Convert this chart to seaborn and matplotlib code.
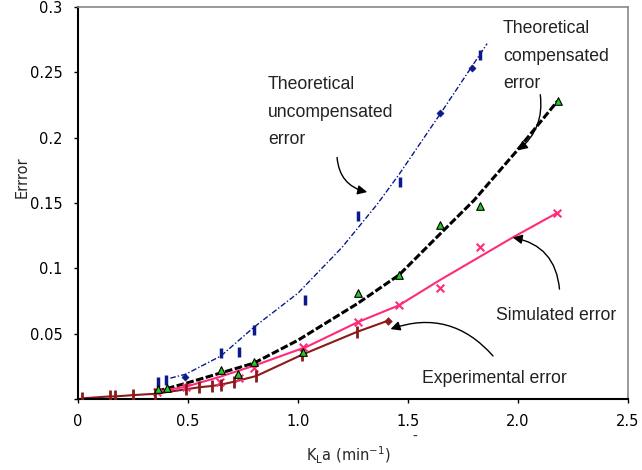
import matplotlib
matplotlib.use("Agg")
import matplotlib.pyplot as plt
import seaborn as sns
import pandas as pd

# ---------------- data ----------------
# Theoretical uncompensated error (navy, dash-dot trend line + markers)
unc_line_x = [0.42, 0.49, 0.65, 0.80, 1.00, 1.20, 1.36, 1.46, 1.65, 1.86]
unc_line_y = [0.016, 0.019, 0.033, 0.055, 0.081, 0.116, 0.149, 0.172, 0.219, 0.272]
unc_bar_x = [0.365, 0.40, 0.65, 0.73, 0.80, 1.032, 1.274, 1.464, 1.827]
unc_bar_y = [0.0133, 0.0145, 0.035, 0.036, 0.0528, 0.0758, 0.140, 0.166, 0.263]
unc_dia_x = [0.486, 1.645, 1.79]
unc_dia_y = [0.017, 0.2186, 0.253]

# Theoretical compensated error (black dashed + green triangles)
comp_line_x = [0.36, 0.49, 0.80, 1.00, 1.27, 1.46, 1.65, 1.80, 1.99, 2.18]
comp_line_y = [0.006, 0.012, 0.0275, 0.045, 0.073, 0.095, 0.127, 0.152, 0.189, 0.228]
comp_pt_x = [0.362, 0.403, 0.65, 0.726, 0.80, 1.024, 1.274, 1.459, 1.648, 1.827, 2.183]
comp_pt_y = [0.0074, 0.0087, 0.0222, 0.0189, 0.0281, 0.0357, 0.0814, 0.0949, 0.133, 0.1477, 0.228]

# Simulated error (pink line + x markers)
sim_line_x = [0.36, 0.49, 0.645, 0.80, 1.04, 1.274, 1.459, 1.645, 1.98, 2.18]
sim_line_y = [0.0056, 0.0094, 0.017, 0.0255, 0.040, 0.059, 0.0717, 0.091, 0.124, 0.1426]
sim_pt_x = [0.36, 0.49, 0.645, 0.73, 0.80, 1.024, 1.274, 1.459, 1.648, 1.827, 2.18]
sim_pt_y = [0.005, 0.009, 0.013, 0.016, 0.024, 0.040, 0.059, 0.0717, 0.0852, 0.1166, 0.1426]

# Experimental error (dark red line + tick markers)
exp_x = [0.017, 0.145, 0.17, 0.25, 0.35, 0.49, 0.55, 0.61, 0.65, 0.71, 0.81, 1.02, 1.27, 1.41]
exp_y = [0.0005, 0.002, 0.002, 0.003, 0.004, 0.0074, 0.009, 0.010, 0.011, 0.0133, 0.0176, 0.034, 0.0515, 0.060]

x_ticks = [0, 0.5, 1.0, 1.5, 2.0, 2.5]
x_tick_labels = ["0", "0.5", "1.0", "1.5", "2.0", "2.5"]
y_ticks = [0, 0.05, 0.1, 0.15, 0.2, 0.25, 0.3]
y_tick_labels = ["", "0.05", "0.1", "0.15", "0.2", "0.25", "0.3"]

# ---------------- style ----------------
sns.set_theme(style="white")
plt.rcParams["font.family"] = ["DejaVu Sans"]

fig = plt.figure(figsize=(6.42, 4.70), dpi=100)
ax = fig.add_axes([0.1215, 0.151, 0.8565, 0.834])

navy = "#0a1a8a"
pink = "#ff2a7a"
brown = "#8b1a1a"

# uncompensated
sns.lineplot(x=unc_line_x, y=unc_line_y, ax=ax, color=navy, lw=1.0,
             estimator=None, sort=False)
ax.lines[-1].set_dashes([4, 1.5, 1, 1.5])
sns.scatterplot(x=unc_bar_x, y=unc_bar_y, ax=ax, marker="|", s=60,
                color=navy, linewidth=2.5)
sns.scatterplot(x=unc_dia_x, y=unc_dia_y, ax=ax, marker="D", s=14,
                color=navy, edgecolor=navy)

# compensated
sns.lineplot(x=comp_line_x, y=comp_line_y, ax=ax, color="black", lw=2.2,
             estimator=None, sort=False)
ax.lines[-1].set_dashes([2.5, 0.8])
sns.scatterplot(x=comp_pt_x, y=comp_pt_y, ax=ax, marker="^", s=30,
                color="#22cc22", edgecolor="black", linewidth=0.8, zorder=5)

# simulated
sns.lineplot(x=sim_line_x, y=sim_line_y, ax=ax, color=pink, lw=1.5,
             estimator=None, sort=False)
sns.scatterplot(x=sim_pt_x, y=sim_pt_y, ax=ax, marker="x", s=30,
                color=pink, linewidth=1.5, zorder=4)

# experimental
sns.lineplot(x=exp_x, y=exp_y, ax=ax, color=brown, lw=1.5,
             estimator=None, sort=False)
sns.scatterplot(x=exp_x[:-1], y=exp_y[:-1], ax=ax, marker="|", s=70,
                color=brown, linewidth=2.0, zorder=4)
sns.scatterplot(x=exp_x[-1:], y=exp_y[-1:], ax=ax, marker="D", s=16,
                color=brown, edgecolor=brown, zorder=4)

# ---------------- axes ----------------
ax.set_xlim(0, 2.5)
ax.set_ylim(0, 0.3)
ax.set_xticks(x_ticks)
ax.set_xticklabels(x_tick_labels)
ax.set_yticks(y_ticks)
ax.set_yticklabels(y_tick_labels)
ax.tick_params(axis="both", labelsize=10.5, colors="black", direction="out",
               length=3, width=1, left=True, bottom=True)
ax.tick_params(axis="y", pad=8)
ax.tick_params(axis="x", pad=8)
for s in ["left", "bottom"]:
    ax.spines[s].set_color("black")
    ax.spines[s].set_linewidth(1.5)
for s in ["top", "right"]:
    ax.spines[s].set_color("#888888")
    ax.spines[s].set_linewidth(1.2)

ax.set_xlabel(r"K$_\mathregular{L}$a (min$^\mathregular{-1}$)", fontsize=10.5)
ax.xaxis.set_label_coords((349 - 78) / 550, (399 - 445) / 392)
ax.set_ylabel("Errror", fontsize=10.5)
ax.yaxis.set_label_coords((30 - 78) / 550, (399 - 177) / 392)
ax.text(1.532, -0.029, "-", fontsize=10, ha="center", va="center")

# ---------------- annotations ----------------
tfs = 12.7
tfam = ["Liberation Sans Narrow", "Liberation Sans", "DejaVu Sans"]
ax.text(0.864, 0.247, "Theoretical\nuncompensated\nerror", fontsize=tfs,
        family=tfam, ha="left", va="top", color="#222222", linespacing=1.8)
ax.text(1.932, 0.290, "Theoretical\ncompensated\nerror", fontsize=tfs,
        family=tfam, ha="left", va="top", color="#222222", linespacing=1.8)
ax.text(1.90, 0.064, "Simulated error", fontsize=tfs, family=tfam,
        ha="left", va="center", color="#222222")
ax.text(1.564, 0.016, "Experimental error", fontsize=tfs, family=tfam,
        ha="left", va="center", color="#222222")

ap = dict(arrowstyle="-|>", color="black", lw=1.0, mutation_scale=14)
ax.annotate("", xy=(1.327, 0.158), xytext=(1.177, 0.187),
            arrowprops=dict(ap, connectionstyle="arc3,rad=0.4"))
ax.annotate("", xy=(1.99, 0.189), xytext=(2.10, 0.235),
            arrowprops=dict(ap, connectionstyle="arc3,rad=-0.3"))
ax.annotate("", xy=(1.964, 0.124), xytext=(2.19, 0.082),
            arrowprops=dict(ap, connectionstyle="arc3,rad=0.4"))
ax.annotate("", xy=(1.409, 0.0528), xytext=(1.895, 0.0314),
            arrowprops=dict(ap, connectionstyle="arc3,rad=0.35"))

fig.savefig("out.png", dpi=100)
